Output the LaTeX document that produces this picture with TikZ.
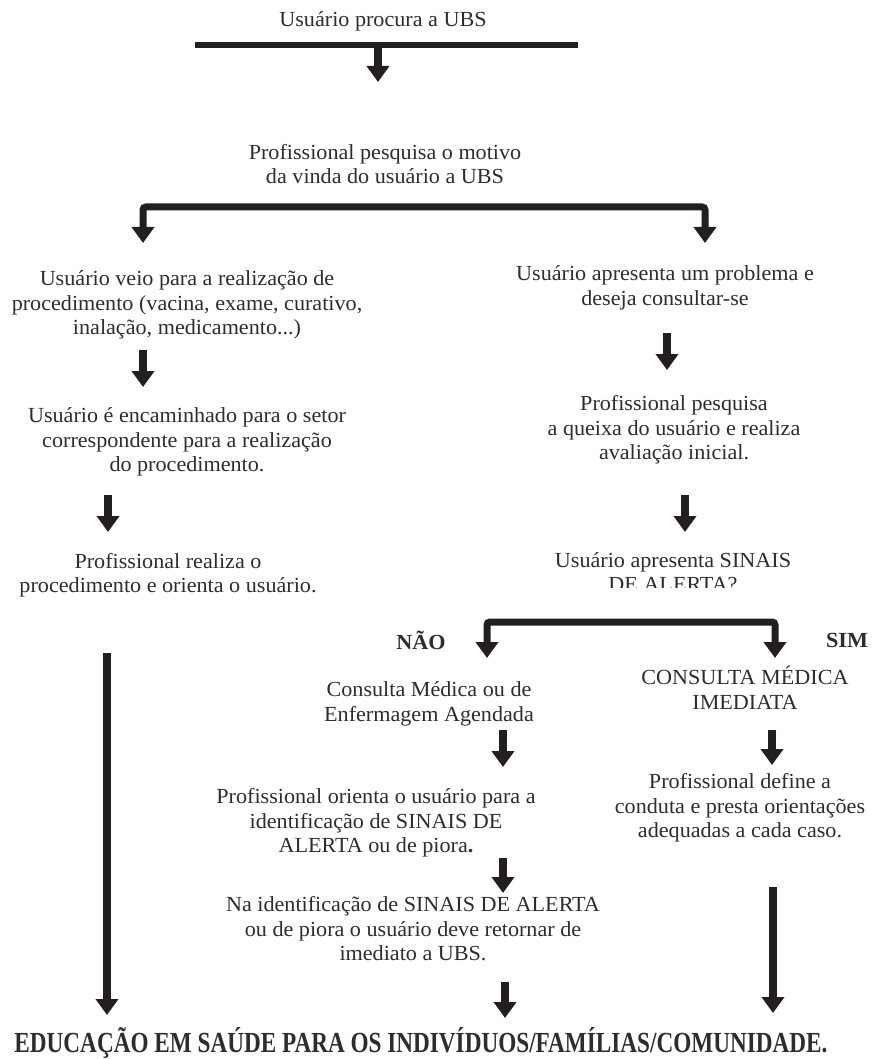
\documentclass[tikz,border=0pt]{standalone}
\usepackage{fontspec}
\setmainfont{Liberation Serif}[FakeStretch=1.03]
\usetikzlibrary{arrows.meta}
\definecolor{ink}{HTML}{231F20}
\definecolor{txt}{HTML}{2E2C2D}
\tikzset{
  every node/.style={text=txt, inner sep=0pt, align=center},
  body/.style={font=\fontsize{21.5}{24.5}\selectfont},
  lab/.style={font=\fontsize{21.5}{24.5}\selectfont\bfseries},
  flow/.style={draw=ink, line width=8pt, -{Triangle[width=22pt,length=16pt]}},
  fork/.style={draw=ink, line width=7pt, rounded corners=3pt,
    {Triangle[width=22pt,length=16pt]}-{Triangle[width=22pt,length=16pt]}},
  topbar/.style={draw=ink, line width=5.5pt},
}
\begin{document}
\begin{tikzpicture}[x=1pt,y=-1pt]
\useasboundingbox (0,0) rectangle (874,1059);

% ---- text blocks ----
\node[body] (t0) at (383,21) {Usuário procura a UBS};
\node[body] (t1) at (385,164) {Profissional pesquisa o motivo\\da vinda do usuário a UBS};

\node[body] (l1) at (187,305) {Usuário veio para a realização de\\procedimento (vacina, exame, curativo,\\inalação, medicamento...)};
\node[body] (l2) at (187,442) {Usuário é encaminhado para o setor\\correspondente para a realização\\do procedimento.};
\node[body] (l3) at (168,575) {Profissional realiza o\\procedimento e orienta o usuário.};

\node[body] (r1) at (665,288) {Usuário apresenta um problema e\\deseja consultar-se};
\node[body] (r2) at (674,430) {Profissional pesquisa\\a queixa do usuário e realiza\\avaliação inicial.};
\begin{scope}
  \clip (500,540) rectangle (860,587);
  \node[body] (r3) at (673,572) {Usuário apresenta SINAIS\\DE ALERTA?};
\end{scope}

\node[lab] (nao) at (421,640) {NÃO};
\node[lab] (sim) at (847,640) {SIM};

\node[body] (m1) at (429,704) {Consulta Médica ou de\\Enfermagem Agendada};
\node[body] (s1) at (745,688) {CONSULTA MÉDICA\\IMEDIATA};
\node[body] (m2) at (376,823) {Profissional orienta o usuário para a\\identificação de SINAIS DE\\ALERTA ou de piora\textbf{.}};
\node[body] (s2) at (740,808) {Profissional define a\\conduta e presta orientações\\adequadas a cada caso.};
\node[body] (m3) at (413,929) {Na identificação de SINAIS DE ALERTA\\ou de piora o usuário deve retornar de\\imediato a UBS.};

\node (edu) at (421,1043) {\resizebox{813pt}{25pt}{\bfseries EDUCAÇÃO EM SAÚDE PARA OS INDIVÍDUOS/FAMÍLIAS/COMUNIDADE.}};

% ---- connector end points ----
\coordinate (b0l) at (195,45);  \coordinate (b0r) at (578,45);
\coordinate (a0s) at (378,45);  \coordinate (a0e) at (378,82);
\coordinate (f1l) at (143,243); \coordinate (f1r) at (705,243);
\coordinate (l1s) at (143,350); \coordinate (l1e) at (143,387);
\coordinate (l2s) at (108,495); \coordinate (l2e) at (108,532);
\coordinate (l3s) at (107,653); \coordinate (l3e) at (107,1015);
\coordinate (r1s) at (667,333); \coordinate (r1e) at (667,370);
\coordinate (r2s) at (685,495); \coordinate (r2e) at (685,532);
\coordinate (f2l) at (487,658); \coordinate (f2r) at (775,658);
\coordinate (m1s) at (503,730); \coordinate (m1e) at (503,767);
\coordinate (m2s) at (503,858); \coordinate (m2e) at (503,893);
\coordinate (m3s) at (505,982); \coordinate (m3e) at (505,1018);
\coordinate (s1s) at (772,730); \coordinate (s1e) at (772,765);
\coordinate (s2s) at (773,887); \coordinate (s2e) at (773,1013);

% ---- connectors ----
\draw[topbar] (b0l) -- (b0r);
\draw[flow] (a0s) -- (a0e);
\draw[fork] (f1l) -- ++(0,-36) -| (f1r);
\draw[flow] (l1s) -- (l1e);
\draw[flow] (l2s) -- (l2e);
\draw[flow] (l3s) -- (l3e);
\draw[flow] (r1s) -- (r1e);
\draw[flow] (r2s) -- (r2e);
\draw[fork] (f2l) -- ++(0,-36) -| (f2r);
\draw[flow] (m1s) -- (m1e);
\draw[flow] (m2s) -- (m2e);
\draw[flow] (m3s) -- (m3e);
\draw[flow] (s1s) -- (s1e);
\draw[flow] (s2s) -- (s2e);
\end{tikzpicture}
\end{document}
